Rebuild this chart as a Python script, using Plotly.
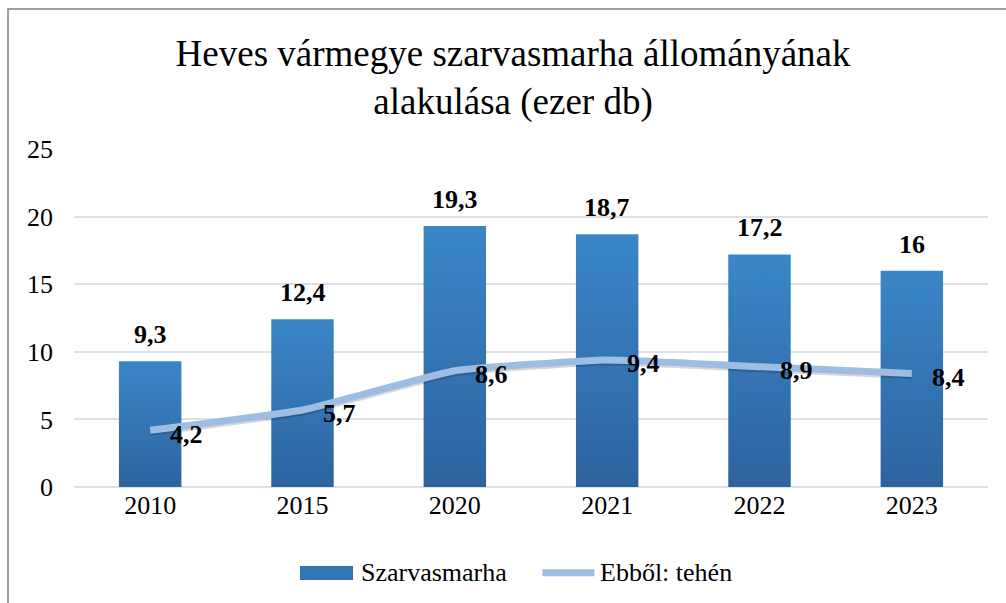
import plotly.graph_objects as go

# adatok (ezer db)
evek = ["2010", "2015", "2020", "2021", "2022", "2023"]
szarvasmarha = [9.3, 12.4, 19.3, 18.7, 17.2, 16]
tehen = [4.2, 5.7, 8.6, 9.4, 8.9, 8.4]
nev_bar = "Szarvasmarha"
nev_vonal = "Ebből: tehén"

serif = "Liberation Serif"
bar_also = "#2d639f"
bar_felso = "#3b86c7"
vonal_szin = "#9dbde2"
fel_szel = 0.205  # oszlop félszélessége (kategória egységben)


def hu(v):
    return f"{v:g}".replace(".", ",")


fig = go.Figure()

# oszlopok színátmenettel (mint az Excelben)
for i, v in enumerate(szarvasmarha):
    fig.add_trace(go.Scatter(
        x=[i - fel_szel, i + fel_szel, i + fel_szel, i - fel_szel, i - fel_szel],
        y=[0, 0, v, v, 0],
        mode="lines", line=dict(width=0),
        fill="toself",
        fillgradient=dict(type="vertical",
                          colorscale=[[0, bar_also], [1, bar_felso]]),
        name=nev_bar, showlegend=False,
        hoverinfo="skip",
    ))

# árnyék a vonal alatt
fig.add_trace(go.Scatter(
    x=list(range(len(evek))), y=[v - 0.15 for v in tehen],
    mode="lines",
    line=dict(color="rgba(0,0,0,0.16)", width=7, shape="spline", smoothing=0.35),
    showlegend=False, hoverinfo="skip",
))

fig.add_trace(go.Scatter(
    x=list(range(len(evek))), y=tehen,
    name=nev_vonal,
    mode="lines",
    line=dict(color=vonal_szin, width=7, shape="spline", smoothing=0.35),
    showlegend=False,
))

# adatfeliratok
annotations = []
for i, v in enumerate(szarvasmarha):
    annotations.append(dict(
        x=i, y=v, text=f"<b>{hu(v)}</b>", showarrow=False,
        xanchor="center", yanchor="bottom", yshift=10,
        font=dict(family=serif, size=26, color="black"),
    ))
for i, v in enumerate(tehen):
    annotations.append(dict(
        x=i, y=v, text=f"<b>{hu(v)}</b>", showarrow=False,
        xanchor="left", yanchor="middle", xshift=18, yshift=-4,
        font=dict(family=serif, size=26, color="black"),
    ))

# jelmagyarázat kézzel (széles jelek)
annotations.append(dict(
    xref="paper", yref="paper", x=0.312, y=-0.254, text=nev_bar,
    showarrow=False, xanchor="left", yanchor="middle",
    font=dict(family=serif, size=26, color="black"),
))
annotations.append(dict(
    xref="paper", yref="paper", x=0.573, y=-0.254, text=nev_vonal,
    showarrow=False, xanchor="left", yanchor="middle",
    font=dict(family=serif, size=26, color="black"),
))

shapes = [
    dict(type="rect", xref="paper", yref="paper",
         x0=-0.0722, x1=1.1, y0=-0.4, y1=1.414,
         line=dict(color="#808080", width=1.5), layer="below"),
    dict(type="rect", xref="paper", yref="paper",
         x0=0.2473, x1=0.3053, y0=-0.275, y1=-0.234,
         fillcolor="#3274b5", line=dict(width=0)),
    dict(type="line", xref="paper", yref="paper",
         x0=0.5125, x1=0.5695, y0=-0.254, y1=-0.254,
         line=dict(color=vonal_szin, width=7)),
]

fig.update_layout(
    width=1006, height=603,
    paper_bgcolor="white",
    plot_bgcolor="white",
    font=dict(family=serif, color="black", size=26),
    title=dict(
        text="Heves vármegye szarvasmarha állományának<br>alakulása (ezer db)",
        x=0.51, xanchor="center",
        y=0.89, yanchor="top",
        font=dict(family=serif, size=37, color="black"),
    ),
    xaxis=dict(
        range=[-0.5, len(evek) - 0.5],
        tickvals=list(range(len(evek))), ticktext=evek,
        showgrid=False, showline=False, zeroline=False, ticks="",
        tickfont=dict(family=serif, size=26),
    ),
    yaxis=dict(
        range=[0, 25], dtick=5,
        showgrid=True, gridcolor="#dde1e6", gridwidth=1.5,
        zeroline=True, zerolinecolor="#dde1e6", zerolinewidth=2,
        showline=False, ticks="",
        tickfont=dict(family=serif, size=26),
        ticklabelstandoff=20,
    ),
    showlegend=False,
    margin=dict(l=74, r=18, t=149, b=116),
    annotations=annotations,
    shapes=shapes,
)

fig.write_html("out.html", config=dict(displayModeBar=False),
               post_script="document.body.style.margin='0';")
